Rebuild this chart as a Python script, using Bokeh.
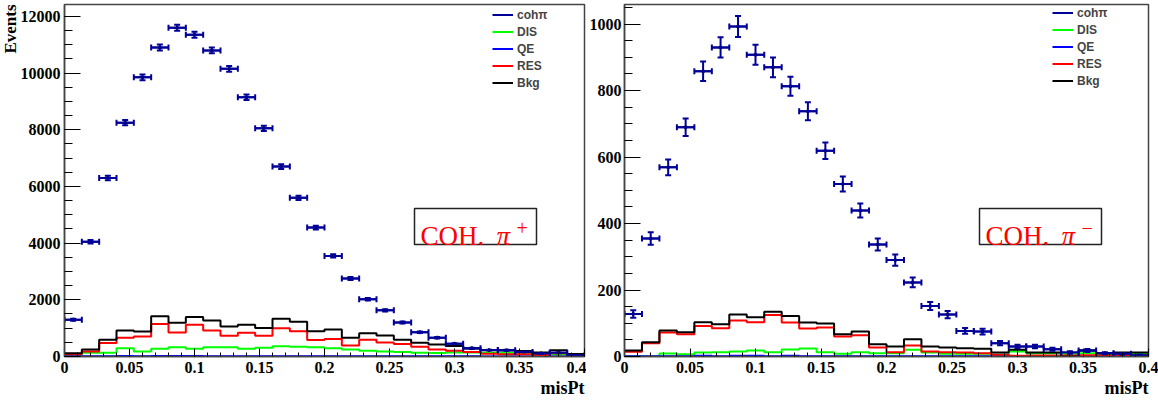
import numpy as np
from bokeh.plotting import figure
from bokeh.layouts import row
from bokeh.models import (ColumnDataSource, Whisker, TeeHead, Label, BoxAnnotation,
                          Legend, LegendItem, FixedTicker, Range1d, Title)
from bokeh.embed import file_html
from bokeh.resources import INLINE

# ---- binning of misPt (30 bins from 0 to 0.4) ----
N_BINS = 30
X_MIN, X_MAX = 0.0, 0.4

X_TICKS = [0.0, 0.05, 0.1, 0.15, 0.2, 0.25, 0.3, 0.35, 0.4]
X_TICK_LABELS = ["0", "0.05", "0.1", "0.15", "0.2", "0.25", "0.3", "0.35", "0.4"]

# ---- COH pi+ sample ----
coh_plus = [1300, 4050, 6300, 8250, 9850, 10900, 11600, 11350, 10800, 10150,
            9150, 8050, 6700, 5600, 4550, 3550, 2750, 2020, 1630, 1200,
            855, 665, 450, 295, 225, 220, 160, 110, 130, 40]
dis_plus = [60, 130, 130, 294, 176, 270, 330, 270, 330, 330,
            270, 306, 365, 340, 330, 290, 250, 200, 180, 155,
            135, 125, 140, 140, 135, 135, 130, 94, 70, 47]
qe_plus = [8, 10, 12, 14, 12, 15, 14, 15, 12, 12,
           12, 10, 12, 10, 10, 10, 8, 8, 8, 6,
           6, 5, 5, 5, 4, 4, 4, 3, 3, 3]
res_plus = [80, 176, 480, 660, 705, 1150, 850, 1120, 917, 730,
            835, 730, 1000, 893, 580, 620, 390, 590, 490, 440,
            340, 250, 200, 155, 100, 80, 75, 50, 118, 35]
bkg_plus = [118, 247, 590, 917, 880, 1420, 1190, 1390, 1270, 1060,
            1120, 1010, 1330, 1230, 893, 952, 658, 822, 740, 595,
            485, 420, 370, 280, 220, 220, 190, 140, 220, 90]
Y_TICKS_PLUS = [0, 2000, 4000, 6000, 8000, 10000, 12000]

# ---- COH pi- sample ----
coh_minus = [128, 355, 569, 690, 858, 930, 993, 908, 870, 813,
             738, 619, 519, 439, 337, 290, 223, 152, 126, 77,
             75, 40, 30, 30, 22, 12, 18, 10, 8, 4]
dis_minus = [0, 0, 9, 7, 12, 13, 15, 18, 13, 21,
             24, 13, 8, 13, 10, 10, 20, 12, 8, 8,
             8, 5, 15, 10, 10, 8, 10, 8, 10, 10]
qe_minus = [1, 1, 1, 1, 2, 1, 2, 2, 1, 2,
            1, 1, 1, 1, 1, 1, 1, 1, 1, 1,
            1, 1, 1, 1, 1, 1, 1, 1, 1, 1]
res_minus = [14, 40, 72, 67, 92, 85, 108, 103, 125, 102,
             84, 87, 60, 64, 27, 13, 33, 15, 13, 12,
             10, 5, 2, 3, 3, 3, 4, 3, 3, 2]
bkg_minus = [18, 43, 78, 73, 103, 97, 126, 118, 135, 122,
             102, 99, 67, 75, 37, 30, 52, 30, 27, 25,
             23, 12, 20, 12, 12, 0, 18, 10, 12, 12]
Y_TICKS_MINUS = [0, 200, 400, 600, 800, 1000]

COH_COLOR = "#000099"
FRAME_COLOR = "#444444"
SERIF = "Liberation Serif"
SANS = "Liberation Sans"


def step_arrays(edges, counts):
    xs = np.asarray(edges, dtype=float)
    ys = np.append(np.asarray(counts, dtype=float), counts[-1])
    return xs, ys


def make_panel(coh, dis, qe, res, bkg, y_ticks, y_minor_step, y_max,
               width, border_left, border_right, border_top, border_bottom,
               frame_h, tag_sup, tag_dx, show_events):
    p = figure(width=width, height=404, output_backend="svg", toolbar_location=None,
               x_range=Range1d(X_MIN, X_MAX), y_range=Range1d(0, y_max),
               min_border_left=border_left, min_border_right=border_right,
               min_border_top=border_top, min_border_bottom=border_bottom)
    p.grid.visible = False
    p.background_fill_color = "white"
    p.border_fill_color = "white"
    p.outline_line_color = FRAME_COLOR
    p.outline_line_width = 1.5

    edges = np.linspace(X_MIN, X_MAX, N_BINS + 1)
    centers = 0.5 * (edges[:-1] + edges[1:])
    counts = np.asarray(coh, dtype=float)
    err = np.sqrt(counts)  # Poisson uncertainty on each bin

    src = ColumnDataSource(dict(x=centers, y=counts, lo_x=edges[:-1], hi_x=edges[1:],
                                lo_y=counts - err, hi_y=counts + err))

    # cohπ points with error bars (drawn first, underneath the histograms)
    hbar = p.segment(x0="lo_x", y0="y", x1="hi_x", y1="y", source=src,
                     line_color=COH_COLOR, line_width=2)
    p.add_layout(Whisker(source=src, base="y", lower="lo_x", upper="hi_x", dimension="width",
                         line_color=COH_COLOR, line_width=2, level="glyph",
                         upper_head=TeeHead(size=6, line_color=COH_COLOR, line_width=2),
                         lower_head=TeeHead(size=6, line_color=COH_COLOR, line_width=2)))
    p.add_layout(Whisker(source=src, base="x", lower="lo_y", upper="hi_y", dimension="height",
                         line_color=COH_COLOR, line_width=2, level="glyph",
                         upper_head=TeeHead(size=6, line_color=COH_COLOR, line_width=2),
                         lower_head=TeeHead(size=6, line_color=COH_COLOR, line_width=2)))
    p.scatter(x="x", y="y", source=src, size=3, color="black")

    renderers = {}
    for name, vals, color in (("DIS", dis, "#00ff00"), ("QE", qe, "#0000ff"),
                              ("RES", res, "#ff0000"), ("Bkg", bkg, "black")):
        xs, ys = step_arrays(edges, vals)
        renderers[name] = p.step(xs, ys, mode="after", line_color=color, line_width=2)

    # axes: ticks pointing into the frame, bold serif numbers
    p.xaxis.ticker = FixedTicker(ticks=X_TICKS, minor_ticks=list(np.arange(0, 0.4001, 0.01)))
    p.xaxis.major_label_overrides = dict(zip(X_TICKS, X_TICK_LABELS))
    p.yaxis.ticker = FixedTicker(ticks=y_ticks,
                                 minor_ticks=list(np.arange(0, y_max, y_minor_step)))
    p.yaxis.formatter.use_scientific = False
    for ax in list(p.xaxis) + list(p.yaxis):
        ax.axis_line_color = FRAME_COLOR
        ax.axis_line_width = 1.5
        ax.major_tick_line_color = "black"
        ax.minor_tick_line_color = "black"
        ax.major_tick_out = 0
        ax.minor_tick_out = 0
        ax.major_label_text_font = SERIF
        ax.major_label_text_font_style = "bold"
        ax.major_label_text_font_size = "16px"
        ax.major_label_text_color = "black"
    for ax in p.xaxis:
        ax.major_tick_in = 8
        ax.minor_tick_in = 4
        ax.major_label_standoff = 5
    for ax in p.yaxis:
        ax.major_tick_in = 16
        ax.minor_tick_in = 8
        ax.major_label_standoff = 4 if show_events else 3

    # legend
    legend = Legend(items=[LegendItem(label="cohπ", renderers=[hbar]),
                           LegendItem(label="DIS", renderers=[renderers["DIS"]]),
                           LegendItem(label="QE", renderers=[renderers["QE"]]),
                           LegendItem(label="RES", renderers=[renderers["RES"]]),
                           LegendItem(label="Bkg", renderers=[renderers["Bkg"]])],
                    location=(428, frame_h - 87), orientation="vertical",
                    border_line_alpha=0, background_fill_alpha=0,
                    padding=0, margin=0, spacing=0,
                    glyph_width=21, glyph_height=17, label_height=17, label_standoff=4,
                    label_text_font=SANS, label_text_font_style="bold",
                    label_text_font_size="12px", label_text_baseline="middle")
    p.add_layout(legend)

    # sample tag in a framed box
    p.add_layout(BoxAnnotation(left=350 + tag_dx, right=472 + tag_dx, bottom=112, top=148,
                               left_units="screen", right_units="screen",
                               bottom_units="screen", top_units="screen",
                               fill_color="white", fill_alpha=1,
                               line_color="#222222", line_alpha=1, line_width=1.5))
    p.add_layout(Label(x=356 + tag_dx, y=121, x_units="screen", y_units="screen",
                       text="COH.", text_font=SERIF, text_font_size="27px",
                       text_color="#ff0000", text_baseline="alphabetic"))
    p.add_layout(Label(x=432 + tag_dx, y=121, x_units="screen", y_units="screen",
                       text="π", text_font=SERIF, text_font_style="italic",
                       text_font_size="27px", text_color="#ff0000",
                       text_baseline="alphabetic"))
    p.add_layout(Label(x=452 + tag_dx, y=129, x_units="screen", y_units="screen",
                       text=tag_sup, text_font=SERIF, text_font_size="20px",
                       text_color="#ff0000", text_baseline="alphabetic"))

    # axis titles
    p.add_layout(Title(text="misPt", align="right", text_font=SERIF,
                       text_font_style="bold", text_font_size="18px",
                       text_color="black", standoff=0, offset=0), "below")
    if show_events:
        p.add_layout(Title(text="Events", align="right", text_font=SERIF,
                           text_font_style="bold", text_font_size="17px",
                           text_color="black", standoff=-4, offset=0), "left")
    return p


p_plus = make_panel(coh_plus, dis_plus, qe_plus, res_plus, bkg_plus,
                    Y_TICKS_PLUS, 500, 12420,
                    width=586, border_left=62, border_right=2, border_top=4, border_bottom=48,
                    frame_h=352, tag_sup="+", tag_dx=0, show_events=True)
p_minus = make_panel(coh_minus, dis_minus, qe_minus, res_minus, bkg_minus,
                     Y_TICKS_MINUS, 50, 1059,
                     width=572, border_left=37, border_right=10, border_top=3, border_bottom=47,
                     frame_h=354, tag_sup="−", tag_dx=5, show_events=False)

p = row(p_plus, p_minus)
open("out.html", "w").write(file_html(p, INLINE))
